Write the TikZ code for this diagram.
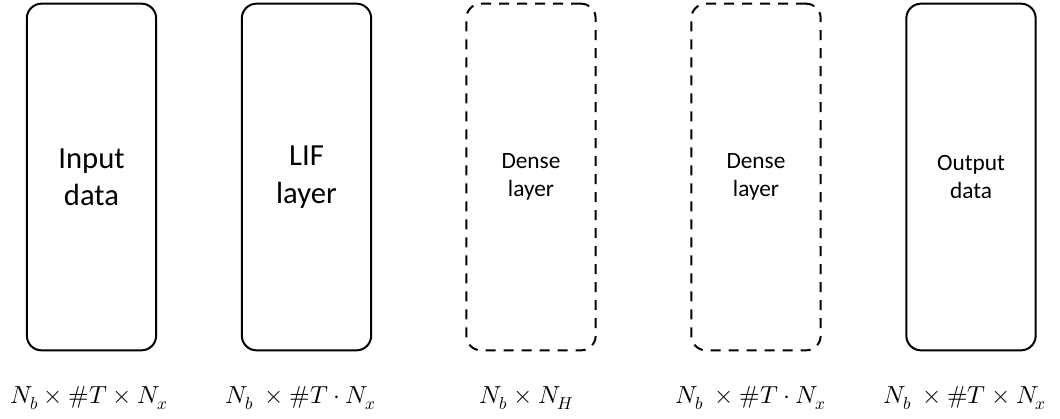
\documentclass[tikz,border=0pt]{standalone}
\usepackage{fontspec}
\setmainfont{Carlito}
\usepackage{unicode-math}
\begin{document}
\begin{tikzpicture}[x=0.75pt,y=-0.75pt,
  box/.style={draw=black,line width=1.5pt,rounded corners=11pt,minimum width=97pt,minimum height=260pt,inner sep=0pt,align=center},
  dbox/.style={box,dash pattern=on 7.5pt off 6pt},
  big/.style={font=\fontsize{23}{28}\selectfont},
  small/.style={font=\fontsize{17.5}{20.5}\selectfont},
  lab/.style={font=\fontsize{18.5}{22}\selectfont,anchor=base,inner sep=0pt}]
\useasboundingbox (0,0) rectangle (1060,418);
\node[box,big] (b1) at (91.5,177) {Input\\data};
\node[box,big] (b2) at (306.5,177) {LIF\\layer};
\node[dbox,small] (b3) at (531,177) {Dense\\layer};
\node[dbox,small] (b4) at (756,177) {Dense\\layer};
\node[box,small] (b5) at (971,177) {Output\\data};
\node[lab] (l1) at (89,403) {$N_b \times \#T \times N_x$};
\node[lab] (l2) at (301,403) {$N_b\ \times \#T \cdot N_x$};
\node[lab] (l3) at (527,403) {$N_b \times N_H$};
\node[lab] (l4) at (751,403) {$N_b\ \times \#T \cdot N_x$};
\node[lab] (l5) at (965,403) {$N_b\ \times \#T \times N_x$};
\end{tikzpicture}
\end{document}
